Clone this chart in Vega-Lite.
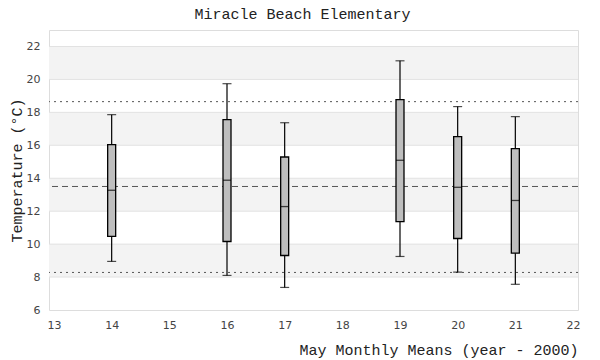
{
  "$schema": "https://vega.github.io/schema/vega-lite/v6.json",
  "width": 529,
  "height": 280,
  "autosize": {"type": "none"},
  "padding": {"left": 49, "top": 30, "right": 22, "bottom": 50},
  "background": "white",
  "title": {
    "text": "Miracle Beach Elementary",
    "font": "Liberation Mono",
    "fontSize": 15,
    "fontWeight": "normal",
    "color": "#222222",
    "frame": "bounds",
    "anchor": "middle",
    "offset": 8,
    "dx": 8
  },
  "config": {
    "view": {"stroke": "#dddddd", "strokeWidth": 1},
    "axis": {
      "labelFont": "DejaVu Sans",
      "labelFontSize": 11,
      "labelColor": "#444444",
      "labelOverlap": false,
      "titleFont": "Liberation Mono",
      "titleFontSize": 15,
      "titleFontWeight": "normal",
      "titleColor": "#222222",
      "ticks": false,
      "domain": false,
      "grid": false
    },
    "axisY": {"labelOverlap": false, "labelSeparation": 0},
    "axisQuantitative": {"labelOverlap": false}
  },
  "datasets": {
    "boxes": [
      {"year": 14, "min": 8.95, "q1": 10.47, "median": 13.27, "q3": 16.04, "max": 17.86},
      {"year": 16, "min": 8.1, "q1": 10.16, "median": 13.88, "q3": 17.56, "max": 19.74},
      {"year": 17, "min": 7.37, "q1": 9.31, "median": 12.28, "q3": 15.29, "max": 17.37},
      {"year": 19, "min": 9.25, "q1": 11.37, "median": 15.09, "q3": 18.77, "max": 21.13},
      {"year": 20, "min": 8.3, "q1": 10.34, "median": 13.45, "q3": 16.53, "max": 18.35},
      {"year": 21, "min": 7.56, "q1": 9.45, "median": 12.65, "q3": 15.8, "max": 17.74}
    ],
    "bands": [
      {"lo": 8, "hi": 10},
      {"lo": 12, "hi": 14},
      {"lo": 16, "hi": 18},
      {"lo": 20, "hi": 22}
    ],
    "grid": [
      {"v": 8}, {"v": 10}, {"v": 12}, {"v": 14}, {"v": 16}, {"v": 18}, {"v": 20}, {"v": 22}
    ],
    "refs": [
      {"v": 18.65, "kind": "upper"},
      {"v": 13.5, "kind": "mean"},
      {"v": 8.28, "kind": "lower"}
    ]
  },
  "layer": [
    {
      "data": {"name": "bands"},
      "mark": {"type": "rect", "fill": "#f3f3f3"},
      "encoding": {
        "y": {
          "field": "lo",
          "type": "quantitative",
          "scale": {"domain": [6, 23], "nice": false, "zero": false},
          "axis": {
            "values": [6, 8, 10, 12, 14, 16, 18, 20, 22],
            "format": "d",
            "labelOverlap": false,
            "labelSeparation": 0,
            "labelPadding": 9,
            "title": "Temperature (°C)",
            "titlePadding": 2
          }
        },
        "y2": {"field": "hi"}
      }
    },
    {
      "data": {"name": "grid"},
      "mark": {"type": "rule", "stroke": "#e2e2e2", "strokeWidth": 1},
      "encoding": {
        "y": {"field": "v", "type": "quantitative", "axis": {"values": [6, 8, 10, 12, 14, 16, 18, 20, 22], "labelOverlap": false}}
      }
    },
    {
      "data": {"name": "refs"},
      "transform": [{"filter": "datum.kind != 'mean'"}],
      "mark": {"type": "rule", "stroke": "#555555", "strokeWidth": 1, "strokeDash": [2, 4]},
      "encoding": {
        "y": {"field": "v", "type": "quantitative", "axis": {"values": [6, 8, 10, 12, 14, 16, 18, 20, 22], "labelOverlap": false}}
      }
    },
    {
      "data": {"name": "refs"},
      "transform": [{"filter": "datum.kind == 'mean'"}],
      "mark": {"type": "rule", "stroke": "#555555", "strokeWidth": 1, "strokeDash": [6, 4]},
      "encoding": {
        "y": {"field": "v", "type": "quantitative", "axis": {"values": [6, 8, 10, 12, 14, 16, 18, 20, 22], "labelOverlap": false}}
      }
    },
    {
      "data": {"name": "boxes"},
      "mark": {"type": "rule", "stroke": "black", "strokeWidth": 1.2},
      "encoding": {
        "x": {
          "field": "year",
          "type": "quantitative",
          "scale": {"domain": [13, 22], "nice": false, "zero": false},
          "axis": {
            "values": [13, 14, 15, 16, 17, 18, 19, 20, 21, 22],
            "format": "d",
            "labelPadding": 9,
            "title": "May Monthly Means (year - 2000)",
            "titleAnchor": "end",
            "titleAlign": "right",
            "titlePadding": 12
          }
        },
        "y": {"field": "min", "type": "quantitative", "axis": {"values": [6, 8, 10, 12, 14, 16, 18, 20, 22], "labelOverlap": false}},
        "y2": {"field": "max"}
      }
    },
    {
      "data": {"name": "boxes"},
      "mark": {"type": "tick", "orient": "horizontal", "color": "black", "size": 9, "thickness": 1.2},
      "encoding": {
        "x": {"field": "year", "type": "quantitative"},
        "y": {"field": "max", "type": "quantitative", "axis": {"values": [6, 8, 10, 12, 14, 16, 18, 20, 22], "labelOverlap": false}}
      }
    },
    {
      "data": {"name": "boxes"},
      "mark": {"type": "tick", "orient": "horizontal", "color": "black", "size": 9, "thickness": 1.2},
      "encoding": {
        "x": {"field": "year", "type": "quantitative"},
        "y": {"field": "min", "type": "quantitative", "axis": {"values": [6, 8, 10, 12, 14, 16, 18, 20, 22], "labelOverlap": false}}
      }
    },
    {
      "data": {"name": "boxes"},
      "mark": {"type": "bar", "fill": "#bebebe", "stroke": "black", "strokeWidth": 1.3, "size": 8},
      "encoding": {
        "x": {"field": "year", "type": "quantitative"},
        "y": {"field": "q1", "type": "quantitative", "axis": {"values": [6, 8, 10, 12, 14, 16, 18, 20, 22], "labelOverlap": false}},
        "y2": {"field": "q3"}
      }
    },
    {
      "data": {"name": "boxes"},
      "mark": {"type": "tick", "orient": "horizontal", "color": "black", "size": 8, "thickness": 1.3},
      "encoding": {
        "x": {"field": "year", "type": "quantitative"},
        "y": {"field": "median", "type": "quantitative", "axis": {"values": [6, 8, 10, 12, 14, 16, 18, 20, 22], "labelOverlap": false}}
      }
    }
  ]
}
